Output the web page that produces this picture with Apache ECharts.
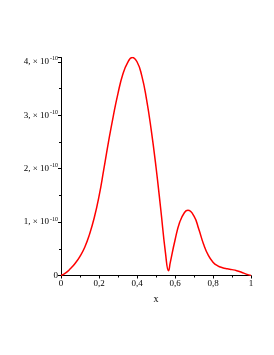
<!DOCTYPE html>
<html><head><meta charset="utf-8">
<script src="https://cdn.jsdelivr.net/npm/echarts@6/dist/echarts.min.js"></script>
<style>html,body{margin:0;padding:0;background:#fff}#c{width:274px;height:355px}</style>
</head><body><div id="c"></div>
<script>
// values in units of 1e-10
const xValues = [0, 0.025, 0.05, 0.075, 0.1, 0.125, 0.15, 0.175, 0.2, 0.225, 0.25, 0.275, 0.3, 0.325, 0.35, 0.375, 0.4, 0.425, 0.45, 0.475, 0.5, 0.525, 0.55, 0.566, 0.575, 0.6, 0.625, 0.65, 0.668, 0.7, 0.725, 0.75, 0.775, 0.8, 0.825, 0.85, 0.875, 0.9, 0.925, 0.95, 0.975, 1.0];
const yValues = [0, 0.05, 0.13, 0.23, 0.36, 0.53, 0.77, 1.08, 1.48, 1.98, 2.50, 2.98, 3.41, 3.76, 3.98, 4.08, 4.00, 3.74, 3.30, 2.72, 2.03, 1.24, 0.42, 0.09, 0.24, 0.66, 1.0, 1.18, 1.22, 1.11, 0.87, 0.59, 0.38, 0.25, 0.18, 0.145, 0.125, 0.11, 0.09, 0.06, 0.025, 0];
const yTicks = [0, 1, 2, 3, 4];
const xTicks = [0, 0.2, 0.4, 0.6, 0.8, 1];
const yMax = 4.08;

const chart = echarts.init(document.getElementById('c'), null, {renderer: 'canvas'});
const font = 'Liberation Serif';
chart.setOption({
  animation: false,
  grid: {left: 61, right: 23, top: 57.5, bottom: 79.5, containLabel: false},
  xAxis: {
    type: 'value', min: 0, max: 1, interval: 0.2,
    name: 'x', nameLocation: 'middle', nameGap: 19,
    nameTextStyle: {fontFamily: font, fontSize: 10, color: '#000'},
    axisLine: {show: true, onZero: false, lineStyle: {color: '#000', width: 1}},
    axisTick: {show: true, inside: false, length: 3, lineStyle: {color: '#000'}},
    minorTick: {show: true, splitNumber: 2, length: 2, lineStyle: {color: '#000'}},
    splitLine: {show: false},
    axisLabel: {fontFamily: font, fontSize: 9, color: '#000', margin: 4,
      formatter: v => String(+v.toFixed(1)).replace('.', ',')}
  },
  yAxis: {
    type: 'value', min: 0, max: yMax, interval: 1,
    axisLine: {show: true, onZero: false, lineStyle: {color: '#000', width: 1}},
    axisTick: {show: true, length: 3, lineStyle: {color: '#000'}},
    minorTick: {show: true, splitNumber: 2, length: 2, lineStyle: {color: '#000'}},
    splitLine: {show: false},
    axisLabel: {showMaxLabel: false, margin: 3, fontFamily: font, fontSize: 9, color: '#000',
      formatter: v => (v === 0 ? '{b|0}' : (yTicks.includes(v) ? '{b|' + v + ', \u00d7 10}{s|-10}' : '')),
      rich: {
        b: {fontFamily: font, fontSize: 9, color: '#000', lineHeight: 12},
        s: {fontFamily: font, fontSize: 6, color: '#000', verticalAlign: 'top', padding: [0, 0, 5, 1]}
      }
    }
  },
  series: [{
    type: 'line', smooth: 0.5, showSymbol: false,
    data: xValues.map((x, i) => [x, yValues[i]]),
    lineStyle: {color: '#ff0000', width: 1.5}
  }]
});
</script></body></html>
